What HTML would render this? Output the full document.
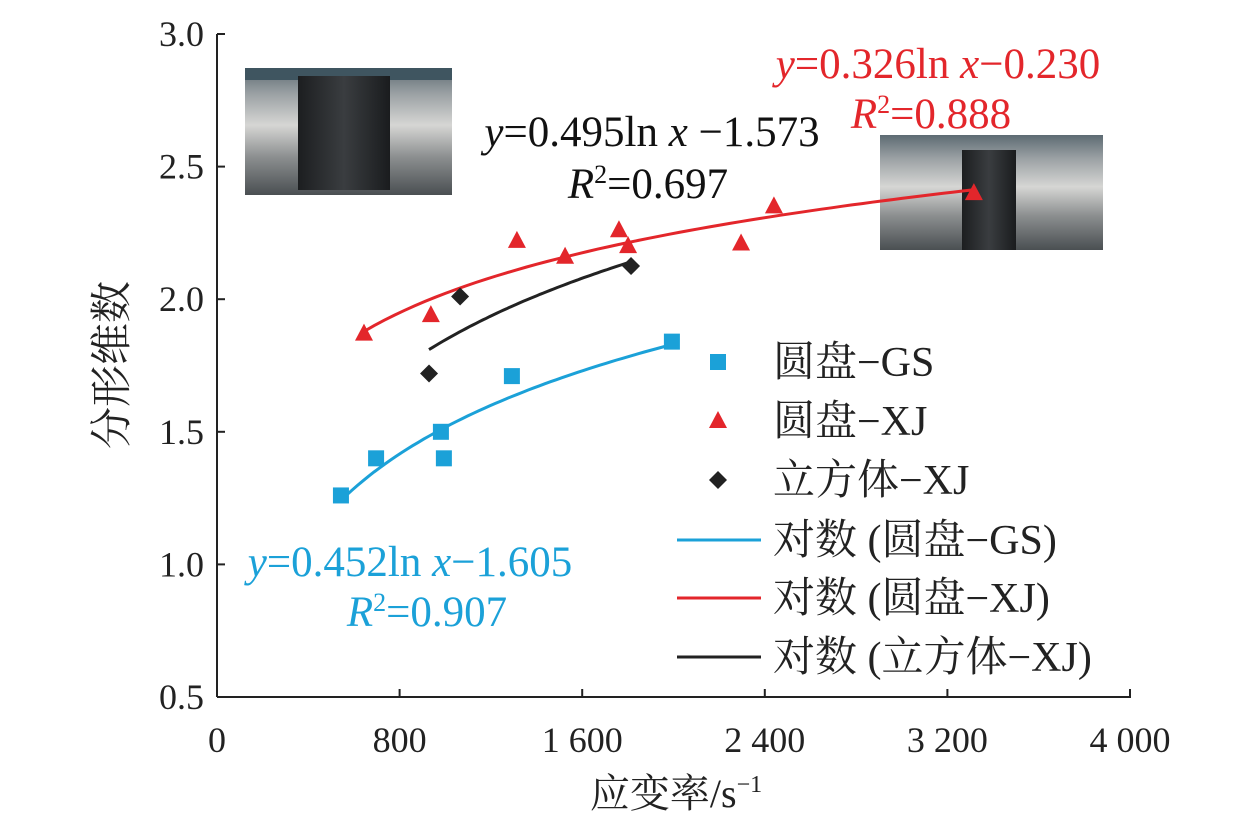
<!DOCTYPE html>
<html><head><meta charset="utf-8"><style>
html,body{margin:0;padding:0;background:#fff;}
svg{display:block;font-family:"Liberation Serif","Noto Serif CJK SC",serif;}
</style></head><body>
<svg id="chart" width="1259" height="826" viewBox="0 0 1259 826">
<defs>
<linearGradient id="cyl" x1="0" y1="0" x2="0" y2="1">
<stop offset="0" stop-color="#5d6b73"/><stop offset="0.2" stop-color="#9aa0a3"/><stop offset="0.45" stop-color="#d6d6d4"/><stop offset="0.7" stop-color="#8c8f90"/><stop offset="1" stop-color="#4a4f52"/>
</linearGradient>
<linearGradient id="blk" x1="0" y1="0" x2="1" y2="0">
<stop offset="0" stop-color="#1c1e20"/><stop offset="0.5" stop-color="#3a3d40"/><stop offset="1" stop-color="#1a1c1e"/>
</linearGradient>
</defs>
<g id="photos">
<g>
<rect x="245" y="68" width="207" height="127" fill="url(#cyl)"/>
<rect x="245" y="68" width="207" height="12" fill="#3f5560"/>
<rect x="298" y="76" width="92" height="114" fill="url(#blk)"/>
</g>
<g>
<rect x="880" y="135" width="223" height="115" fill="url(#cyl)"/>
<rect x="962" y="150" width="54" height="100" fill="url(#blk)"/>
</g>
</g>
<g id="axes"></g>
<g id="marks"></g>
<g id="legend"></g>
<text x="938" y="78" font-size="43" fill="#e3262b" text-anchor="middle"><tspan font-style="italic">y</tspan>=0.326ln <tspan font-style="italic">x</tspan>−0.230</text>
<text x="931" y="128" font-size="43" fill="#e3262b" text-anchor="middle"><tspan font-style="italic">R</tspan><tspan font-size="26" dy="-15">2</tspan><tspan dy="15">=0.888</tspan></text>
<text x="652" y="146" font-size="43" fill="#111" text-anchor="middle"><tspan font-style="italic">y</tspan>=0.495ln <tspan font-style="italic">x</tspan> −1.573</text>
<text x="648" y="198" font-size="43" fill="#111" text-anchor="middle"><tspan font-style="italic">R</tspan><tspan font-size="26" dy="-15">2</tspan><tspan dy="15">=0.697</tspan></text>
<text x="410" y="576" font-size="43" fill="#1ba1d8" text-anchor="middle"><tspan font-style="italic">y</tspan>=0.452ln <tspan font-style="italic">x</tspan>−1.605</text>
<text x="427" y="626" font-size="43" fill="#1ba1d8" text-anchor="middle"><tspan font-style="italic">R</tspan><tspan font-size="26" dy="-15">2</tspan><tspan dy="15">=0.907</tspan></text>
<text transform="translate(126,365) rotate(-90)" font-size="42" fill="#222" text-anchor="middle">分形维数</text>
<text x="676" y="807" font-size="40" fill="#222" text-anchor="middle">应变率/s<tspan font-size="24" dy="-15">−1</tspan></text>
</svg>
<script>
const xTicks=[0,800,1600,2400,3200,4000];
const xTickLabels=["0","800","1 600","2 400","3 200","4 000"];
const yTicks=[0.5,1.0,1.5,2.0,2.5,3.0];
const yTickLabels=["0.5","1.0","1.5","2.0","2.5","3.0"];
const gsX=[543,697,981,994,1292,1993];
const gsY=[1.26,1.40,1.50,1.40,1.71,1.84];
const xjX=[644,937,1314,1525,1761,1801,2296,2440,3316];
const xjY=[1.87,1.94,2.22,2.16,2.26,2.20,2.21,2.35,2.40];
const cubeX=[929,1065,1814];
const cubeY=[1.72,2.01,2.125];
const fitA=[0.452,0.326,0.495];
const fitB=[-1.605,-0.230,-1.573];
const NS="http://www.w3.org/2000/svg";
const X=v=>217+v*(1130-217)/4000;
const Y=v=>697-(v-0.5)*(697-34)/2.5;
const BLUE="#1ba1d8",RED="#e3262b",BLACK="#222";
function mk(tag,attrs,parent,text){const e=document.createElementNS(NS,tag);for(const k in attrs)e.setAttribute(k,attrs[k]);if(text!==undefined)e.textContent=text;parent.appendChild(e);return e;}
const axes=document.getElementById('axes'),marks=document.getElementById('marks'),leg=document.getElementById('legend');
let a=mk('line',{x1:217,y1:34,x2:217,y2:697,stroke:'#222','stroke-width':2},axes);


a=mk('line',{x1:217,y1:697,x2:1131,y2:697,stroke:'#222','stroke-width':2},axes);


xTicks.forEach((t,i)=>{
 const l=mk('line',{x1:X(t),y1:697,x2:X(t),y2:689,stroke:'#222','stroke-width':2},axes);
 
 
 const tx=mk('text',{x:X(t),y:752,'font-size':36,'text-anchor':'middle',fill:'#222'},axes,xTickLabels[i]);
 
 
});
yTicks.forEach((t,i)=>{
 const l=mk('line',{x1:217,y1:Y(t),x2:225,y2:Y(t),stroke:'#222','stroke-width':2},axes);
 
 
 const tx=mk('text',{x:204,y:Y(t)+12,'font-size':36,'text-anchor':'end',fill:'#222'},axes,yTickLabels[i]);
 
 
});
function fit(xs,k,color,name){
 const lo=Math.min(...xs),hi=Math.max(...xs);let d='';
 for(let i=0;i<=60;i++){const x=lo+(hi-lo)*i/60;const y=fitA[k]*Math.log(x)+fitB[k];d+=(i?'L':'M')+X(x).toFixed(1)+','+Y(y).toFixed(1);}
 const p=mk('path',{d:d,fill:'none',stroke:color,'stroke-width':3},marks);
 
 
}
fit(gsX,0,BLUE,'gs-trendline');fit(xjX,1,RED,'xj-trendline');fit(cubeX,2,BLACK,'cube-trendline');
function sq(cx,cy,p){return mk('rect',{x:cx-8,y:cy-8,width:16,height:16,fill:BLUE},p);}
function tri(cx,cy,p){return mk('polygon',{points:`${cx},${cy-10} ${cx+9},${cy+7} ${cx-9},${cy+7}`,fill:RED},p);}
function dia(cx,cy,p){return mk('polygon',{points:`${cx},${cy-9} ${cx+9},${cy} ${cx},${cy+9} ${cx-9},${cy}`,fill:BLACK},p);}
gsX.forEach((x,i)=>{const m=sq(X(x),Y(gsY[i]),marks);
 
 });
xjX.forEach((x,i)=>{const m=tri(X(x),Y(xjY[i]),marks);
 
 });
cubeX.forEach((x,i)=>{const m=dia(X(x),Y(cubeY[i]),marks);
 
 });
const legItems=[["圆盘−GS",'sq',BLUE,362],["圆盘−XJ",'tri',RED,421],["立方体−XJ",'dia',BLACK,480],["对数 (圆盘−GS)",'line',BLUE,540],["对数 (圆盘−XJ)",'line',RED,598],["对数 (立方体−XJ)",'line',BLACK,657]];
legItems.forEach(it=>{
 const g=mk('g',{},leg);
 
 
 const y=it[3];
 if(it[1]==='sq')sq(718,y,g);else if(it[1]==='tri')tri(718,y,g);else if(it[1]==='dia')dia(718,y,g);
 else mk('line',{x1:677,y1:y,x2:761,y2:y,stroke:it[2],'stroke-width':3},g);
 mk('text',{x:773,y:y+14,'font-size':42,fill:'#222'},g,it[0]);
});
</script>
</body></html>
